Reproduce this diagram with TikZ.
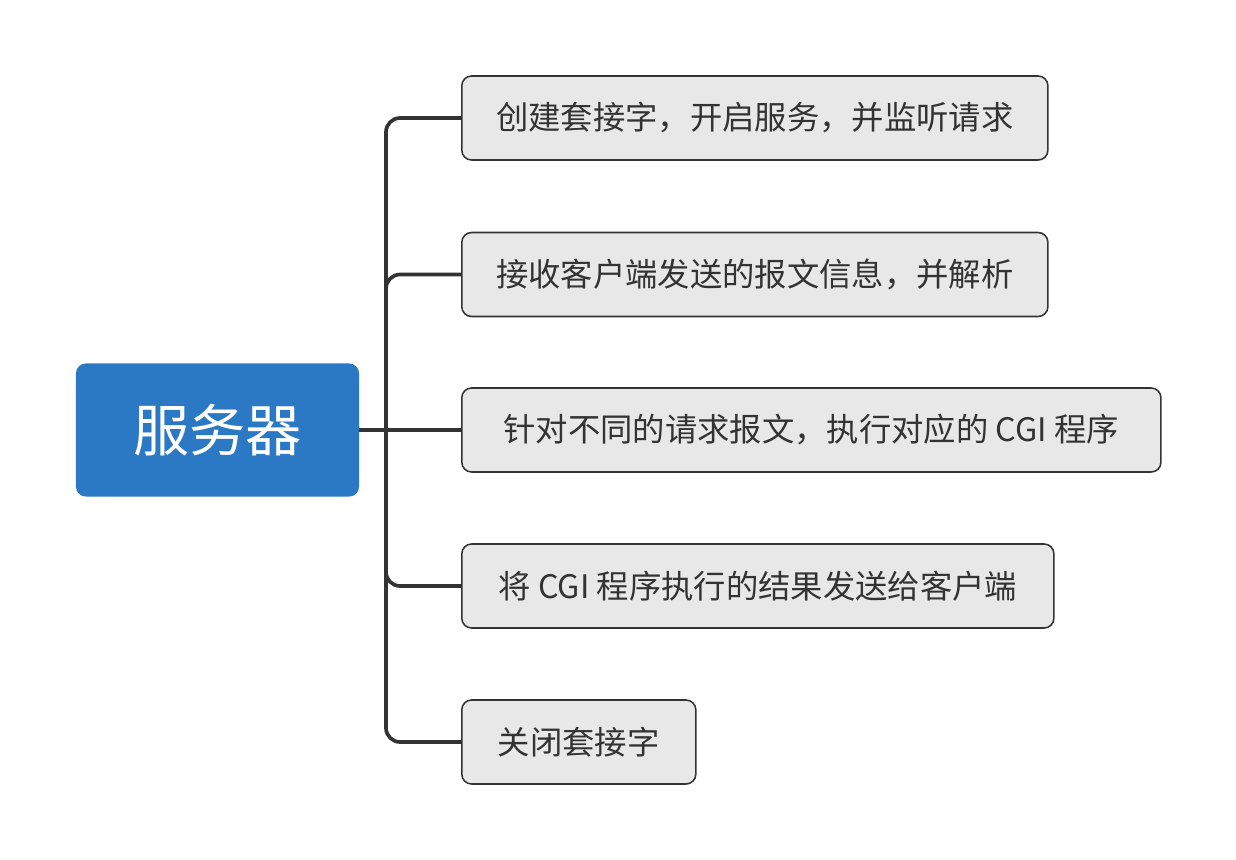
\documentclass[tikz,border=0pt]{standalone}
\usepackage{fontspec}
\setmainfont{Noto Sans CJK SC}
\usepackage{tikz}
\usetikzlibrary{positioning,calc}
\definecolor{rootblue}{HTML}{2B79C4}
\definecolor{boxgray}{HTML}{E8E8E8}
\definecolor{ink}{HTML}{333333}
\tikzset{
  root/.style={fill=rootblue,draw=none,rounded corners=7pt,text=white,font=\fontsize{40}{46}\selectfont,minimum width=7.075cm,minimum height=3.325cm,inner sep=0pt},
  topic/.style={anchor=west,fill=boxgray,draw=ink,line width=1.1pt,rounded corners=7pt,text=ink,font=\fontsize{23}{27}\selectfont,minimum height=2.1cm,inner sep=0pt},
  link/.style={draw=ink,line width=2.6pt,rounded corners=10pt}
}
\begin{document}
\begin{tikzpicture}[x=0.025cm,y=-0.025cm]
\useasboundingbox (0,0) rectangle (1236,860);
\node[root] (server) at (217.5,430) {服务器};
\node[topic,minimum width=14.65cm] (listen) at (461,118) {创建套接字，开启服务，并监听请求};
\node[topic,minimum width=14.65cm] (parse) at (461,274.5) {接收客户端发送的报文信息，并解析};
\node[topic,minimum width=17.475cm] (cgi) at (461,430) {针对不同的请求报文，执行对应的 CGI 程序};
\node[topic,minimum width=14.8cm] (reply) at (461,586) {将 CGI 程序执行的结果发送给客户端};
\node[topic,minimum width=5.85cm] (close) at (461,742) {关闭套接字};
\coordinate (fork) at (386,430);
% trunk and branches
\draw[link] (server.east) -- (cgi.west);
\draw[link] (fork) |- (listen.west);
\draw[link] (fork) |- (parse.west);
\draw[link] (fork) |- (reply.west);
\draw[link] (fork) |- (close.west);
\end{tikzpicture}
\end{document}
